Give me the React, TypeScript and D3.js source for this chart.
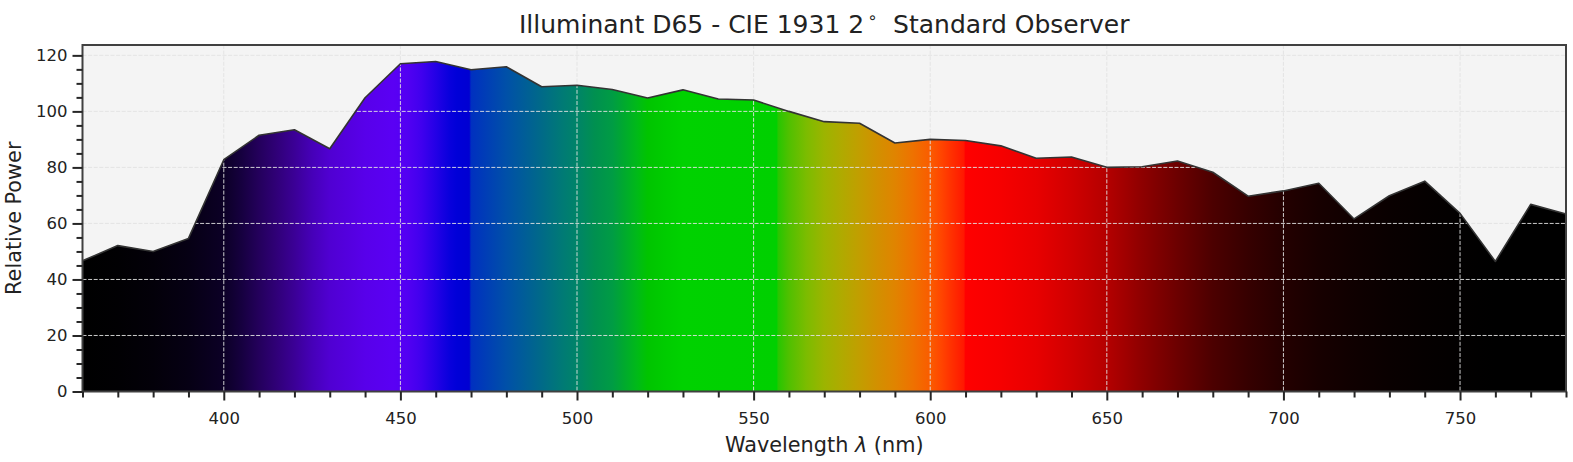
import { useEffect, useRef } from "react";
import * as d3 from "d3";

// D65 relative spectral power, 10 nm steps
const wavelengths = [
  360, 370, 380, 390, 400, 410, 420, 430, 440, 450, 460, 470, 480, 490, 500, 510, 520, 530, 540, 550, 560,
  570, 580, 590, 600, 610, 620, 630, 640, 650, 660, 670, 680, 690, 700, 710, 720, 730, 740, 750, 760, 770, 780,
];
const power = [
  46.64, 52.09, 49.98, 54.65, 82.75, 91.49, 93.43, 86.68, 104.87, 117.01, 117.81, 114.86, 115.92, 108.81, 109.35,
  107.8, 104.79, 107.69, 104.41, 104.05, 100.0, 96.33, 95.79, 88.69, 90.01, 89.6, 87.7, 83.29, 83.7, 80.03, 80.21,
  82.28, 78.28, 69.72, 71.61, 74.35, 61.6, 69.89, 75.09, 63.59, 46.42, 66.81, 63.38,
];

// spectrum colours
const stopNm = [
  360, 370, 380, 390, 400, 405, 410, 415, 420, 425, 430, 440, 448, 452, 456, 460, 464, 466, 469.5, 470, 475, 480,
  485, 490, 495, 500, 505, 510, 513, 517, 520, 525, 530, 556.5, 557, 560, 565, 570, 575, 580, 585, 590, 595, 600,
  603, 606, 609.5, 610, 620, 630, 640, 650, 660, 670, 680, 690, 700, 710, 720, 730, 740, 750, 760, 780,
];
const stopColor = [
  "#000000", "#010003", "#030009", "#060014", "#0c0026", "#16003f", "#24005c", "#300078", "#3b0096", "#4600b8",
  "#5000d2", "#5800ea", "#5a00f4", "#5200f2", "#4000ee", "#2400e6", "#0800dc", "#0000d8", "#0000d2", "#0030c0",
  "#0040b4", "#0050a8", "#005d98", "#006a88", "#007878", "#008468", "#009050", "#009c44", "#00a830", "#00ba18",
  "#00c400", "#00cc00", "#00d200", "#00d000", "#28c600", "#50c000", "#7cbc00", "#9cb400", "#b0aa00", "#c29e00",
  "#d29000", "#e08400", "#ee7200", "#fa5c00", "#ff4600", "#ff3000", "#ff1800", "#ff0000", "#f60000", "#e80000",
  "#d00000", "#b40000", "#8e0000", "#6c0000", "#4c0000", "#360000", "#240000", "#170000", "#0f0000", "#090000",
  "#050000", "#020000", "#000000", "#000000",
];

const xMajor = [400, 450, 500, 550, 600, 650, 700, 750];
const yMajor = [0, 20, 40, 60, 80, 100, 120];

export default function App() {
  const width = 1573;
  const height = 462;
  const marginLeft = 82.5;
  const marginRight = 7;
  const marginTop = 45;
  const marginBottom = 70.5;

  const gx = useRef(null);
  const gy = useRef(null);

  const x = d3.scaleLinear().domain([360, 780]).range([marginLeft, width - marginRight]);
  const y = d3.scaleLinear().domain([0, d3.max(power) * 1.05]).range([height - marginBottom, marginTop]);

  const pts = wavelengths.map((w, i) => [w, power[i]]);
  const area = d3.area().x(d => x(d[0])).y0(y(0)).y1(d => y(d[1]));
  const line = d3.line().x(d => x(d[0])).y(d => y(d[1]));

  const x0 = x(360), x1 = x(780);

  useEffect(() => {
    const minorX = d3.range(360, 781, 10).filter(v => v % 50 !== 0);
    const g = d3.select(gx.current);
    g.selectAll("*").remove();
    g.append("g")
      // @ts-ignore
      .call(d3.axisBottom(x).tickValues(minorX).tickSize(6).tickFormat(() => ""));
    g.append("g")
      // @ts-ignore
      .call(d3.axisBottom(x).tickValues(xMajor).tickSize(9).tickPadding(12).tickFormat(d3.format("d")));
    g.selectAll(".domain").remove();
    g.selectAll(".tick line").attr("stroke", "#262626").attr("stroke-width", 2);
    g.selectAll(".tick text").attr("fill", "#222").attr("font-size", 16.5).attr("font-family", "DejaVu Sans");
  }, [gx, x]);

  useEffect(() => {
    const minorY = d3.range(0, 121, 5).filter(v => v % 20 !== 0);
    const g = d3.select(gy.current);
    g.selectAll("*").remove();
    g.append("g")
      // @ts-ignore
      .call(d3.axisLeft(y).tickValues(minorY).tickSize(6).tickFormat(() => ""));
    g.append("g")
      // @ts-ignore
      .call(d3.axisLeft(y).tickValues(yMajor).tickSize(10).tickPadding(5).tickFormat(d3.format("d")));
    g.selectAll(".domain").remove();
    g.selectAll(".tick line").attr("stroke", "#262626").attr("stroke-width", 2);
    g.selectAll(".tick text").attr("fill", "#222").attr("font-size", 16.5).attr("font-family", "DejaVu Sans");
  }, [gy, y]);

  return (
    <svg width={width} height={height} style={{ position: "absolute", left: 0, top: 0 }} fontFamily="DejaVu Sans">
      <defs>
        <linearGradient id="spectrum" gradientUnits="userSpaceOnUse" x1={x0} x2={x1} y1={0} y2={0}>
          {stopNm.map((w, i) => (
            <stop key={i} offset={(x(w) - x0) / (x1 - x0)} stopColor={stopColor[i]} />
          ))}
        </linearGradient>
      </defs>
      <rect x={marginLeft} y={marginTop} width={x1 - x0} height={y(0) - marginTop} fill="#f4f4f4" />
      <path d={area(pts)} fill="url(#spectrum)" />
      <g stroke="#e2e2e2" strokeOpacity={0.9} strokeWidth={1} strokeDasharray="4,1.6">
        {xMajor.map(v => <line key={"gx" + v} x1={x(v)} x2={x(v)} y1={marginTop} y2={y(0)} />)}
        {yMajor.map(v => <line key={"gy" + v} x1={x0} x2={x1} y1={y(v)} y2={y(v)} />)}
      </g>
      <path d={line(pts)} fill="none" stroke="#333" strokeWidth={1.6} strokeLinejoin="round" />
      <rect x={marginLeft} y={marginTop} width={x1 - x0} height={y(0) - marginTop} fill="none" stroke="#404040" strokeWidth={2} />
      <g ref={gx} transform={`translate(0,${y(0)})`} />
      <g ref={gy} transform={`translate(${marginLeft},0)`} />
      <text x={(x0 + x1) / 2} y={33} textAnchor="middle" fontSize={25} fill="#222">
        Illuminant D65 - CIE 1931 2<tspan fontSize={16} dx={3} dy={-10}>∘</tspan><tspan dy={10}>{"\u00a0 Standard Observer"}</tspan>
      </text>
      <text x={(x0 + x1) / 2} y={452} textAnchor="middle" fontSize={20.8} fill="#222">
        Wavelength <tspan fontStyle="italic">λ</tspan> (nm)
      </text>
      <text transform={`translate(21,${(marginTop + y(0)) / 2}) rotate(-90)`} textAnchor="middle" fontSize={20.8} fill="#222">
        Relative Power
      </text>
    </svg>
  );
}
